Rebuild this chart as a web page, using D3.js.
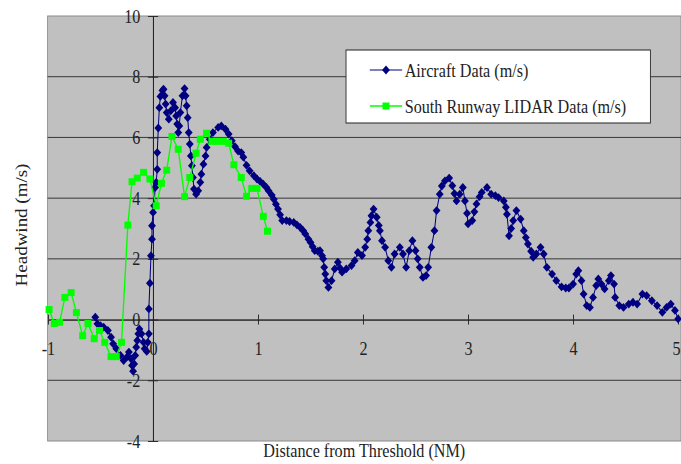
<!DOCTYPE html>
<html>
<head>
<meta charset="utf-8">
<script src="https://cdn.jsdelivr.net/npm/d3@7"></script>
<style>
  body { margin: 0; background: #fff; }
  text { font-family: "Liberation Serif", "Times New Roman", serif; fill: #222; }
</style>
</head>
<body>
<div class="container"></div>
<script>
// aircraft headwind along approach (NM, m/s)
const aircraftX = [-0.55,-0.53,-0.50,-0.47,-0.43,-0.40,-0.38,-0.35,-0.31,-0.28,-0.25,-0.23,-0.21,-0.20,-0.19,-0.18,-0.17,-0.16,-0.15,-0.14,-0.13,-0.11,-0.09,-0.08,-0.06,-0.05,-0.04,-0.04,-0.03,-0.02,-0.01,-0.01,0.00,0.01,0.02,0.03,0.04,0.04,0.05,0.06,0.07,0.09,0.10,0.11,0.12,0.13,0.15,0.17,0.19,0.21,0.22,0.23,0.24,0.25,0.26,0.28,0.30,0.31,0.32,0.33,0.34,0.35,0.36,0.37,0.38,0.39,0.41,0.43,0.45,0.46,0.48,0.50,0.51,0.54,0.57,0.62,0.65,0.69,0.72,0.75,0.78,0.81,0.84,0.86,0.89,0.92,0.96,0.99,1.02,1.05,1.08,1.10,1.13,1.15,1.17,1.19,1.21,1.23,1.27,1.30,1.34,1.37,1.40,1.43,1.45,1.48,1.50,1.52,1.54,1.57,1.59,1.61,1.62,1.63,1.64,1.65,1.67,1.70,1.73,1.76,1.78,1.80,1.84,1.89,1.92,1.95,1.99,2.02,2.04,2.05,2.07,2.08,2.10,2.13,2.15,2.16,2.18,2.21,2.24,2.27,2.30,2.35,2.38,2.41,2.44,2.47,2.50,2.52,2.54,2.57,2.60,2.62,2.65,2.68,2.70,2.73,2.75,2.78,2.82,2.85,2.87,2.89,2.92,2.95,2.97,2.99,3.00,3.04,3.06,3.08,3.11,3.13,3.18,3.22,3.26,3.29,3.34,3.36,3.37,3.39,3.41,3.43,3.46,3.50,3.53,3.55,3.57,3.60,3.62,3.65,3.69,3.72,3.75,3.80,3.84,3.89,3.93,3.96,4.00,4.03,4.05,4.08,4.10,4.13,4.16,4.19,4.22,4.24,4.27,4.30,4.34,4.36,4.39,4.40,4.44,4.48,4.53,4.57,4.61,4.66,4.70,4.75,4.80,4.85,4.89,4.93,4.97,5.00];
const aircraftY = [0.08,-0.14,-0.20,-0.25,-0.36,-0.58,-0.80,-0.96,-1.18,-1.35,-1.24,-1.07,-1.29,-1.51,-1.70,-1.46,-1.18,-0.91,-0.69,-0.47,-0.31,-0.47,-0.75,-0.96,-1.05,-0.75,-0.47,0.35,1.20,2.10,2.65,3.09,3.53,3.75,4.35,4.52,4.95,5.50,6.31,6.98,7.35,7.55,7.59,7.37,7.10,6.82,6.60,6.88,7.15,6.98,6.71,6.44,6.16,6.38,6.82,7.37,7.61,7.37,7.04,6.65,6.16,5.78,5.39,5.07,4.68,4.30,4.13,4.24,4.52,4.79,5.12,5.39,5.67,5.94,6.16,6.33,6.38,6.27,6.11,5.89,5.70,5.55,5.50,5.35,5.08,4.90,4.74,4.63,4.55,4.46,4.35,4.24,4.10,3.96,3.80,3.64,3.45,3.26,3.26,3.23,3.20,3.12,3.04,2.93,2.82,2.65,2.54,2.40,2.27,2.25,2.27,2.10,2.00,1.72,1.50,1.28,1.06,1.28,1.67,1.89,1.70,1.56,1.67,1.78,1.94,2.21,2.11,2.38,2.65,2.93,3.20,3.42,3.64,3.37,3.10,2.93,2.60,2.38,1.94,1.72,2.16,2.38,2.16,1.72,2.27,2.60,2.27,2.00,1.72,1.39,1.45,1.72,2.38,2.93,3.59,4.13,4.40,4.57,4.66,4.41,4.15,3.91,4.13,4.35,3.91,3.50,3.15,3.26,3.55,3.81,4.05,4.19,4.35,4.13,4.08,4.02,3.91,3.70,3.47,2.76,3.00,3.26,3.59,3.31,2.93,2.70,2.49,2.25,2.05,2.16,2.38,2.16,1.72,1.50,1.28,1.08,1.04,1.04,1.17,1.50,1.61,1.28,0.84,0.46,0.40,0.73,1.12,1.34,1.17,1.01,1.28,1.45,1.17,0.73,0.46,0.40,0.51,0.57,0.51,0.84,0.79,0.62,0.46,0.24,0.40,0.51,0.30,0.02];

// south runway LIDAR
const lidarX = [-0.99,-0.94,-0.89,-0.84,-0.78,-0.73,-0.67,-0.62,-0.56,-0.51,-0.46,-0.40,-0.35,-0.30,-0.24,-0.20,-0.15,-0.09,-0.03,0.03,0.08,0.13,0.18,0.24,0.30,0.35,0.41,0.45,0.51,0.56,0.61,0.67,0.72,0.77,0.84,0.89,0.94,0.99,1.05,1.09];
const lidarY = [0.33,-0.13,-0.09,0.73,0.89,0.23,-0.53,-0.13,-0.63,-0.36,-0.75,-1.22,-1.22,-0.75,3.11,4.54,4.66,4.85,4.63,3.75,4.49,4.92,6.03,5.61,4.05,4.68,5.48,5.94,6.14,5.87,5.87,5.87,5.81,5.10,4.68,4.06,4.32,4.32,3.40,2.91];

const xTicks = [-1, 0, 1, 2, 3, 4, 5];
const yTicks = [-4, -2, 0, 2, 4, 6, 8, 10];
const gridY = [-2, 2, 4, 6, 8];
const seriesNames = ["Aircraft Data (m/s)", "South Runway LIDAR Data (m/s)"];

const aircraft = aircraftX.map((d, i) => [d, aircraftY[i]]);
const lidar = lidarX.map((d, i) => [d, lidarY[i]]);

// the picture is squeezed sideways, so draw wide and squash with the viewBox
const W = 801, H = 464;
const plotLeft = 56, plotRight = 801, plotTop = 16, plotBottom = 441;

const x = d3.scaleLinear().domain([-1, 5]).range([56.5, 797.6]);
const y = d3.scaleLinear().domain([-4, 10]).range([plotBottom, plotTop]);

const svg = d3.select('.container')
  .append('svg')
  .attr('width', 681)
  .attr('height', H)
  .attr('viewBox', `0 0 ${W} ${H}`)
  .attr('preserveAspectRatio', 'none');

svg.append('rect')
  .attr('x', plotLeft)
  .attr('y', plotTop)
  .attr('width', plotRight - plotLeft)
  .attr('height', plotBottom - plotTop)
  .attr('fill', '#c0c0c0')
  .attr('stroke', '#8a8a8a');

svg.selectAll('.grid')
  .data(gridY)
  .enter()
  .append('line')
  .attr('class', 'grid')
  .attr('x1', plotLeft)
  .attr('x2', plotRight)
  .attr('y1', d => y(d))
  .attr('y2', d => y(d))
  .attr('stroke', '#2a2a2a')
  .attr('stroke-width', 1);

// axes cross at the origin, ticks stick out both sides
const yAxis = d3.axisLeft(y).tickValues(yTicks).tickSize(6).tickSizeOuter(0).tickPadding(9).tickFormat(d => String(d));
const yAxis2 = d3.axisRight(y).tickValues(yTicks).tickSize(6).tickSizeOuter(0).tickFormat('');
const xAxis = d3.axisBottom(x).tickValues(xTicks).tickSize(5).tickSizeOuter(0).tickPadding(17).tickFormat(d => String(d));
const xAxis2 = d3.axisTop(x).tickValues(xTicks).tickSize(5).tickSizeOuter(0).tickFormat('');

const axes = [
  svg.append('g').attr('transform', `translate(${x(0)},0)`).call(yAxis),
  svg.append('g').attr('transform', `translate(${x(0)},0)`).call(yAxis2),
  svg.append('g').attr('transform', `translate(0,${y(0)})`).call(xAxis),
  svg.append('g').attr('transform', `translate(0,${y(0)})`).call(xAxis2)
];
axes.forEach(g => {
  g.selectAll('path, line').attr('stroke', '#222');
  g.selectAll('text').attr('fill', '#222').style('font-size', '19px')
    .style('font-family', '"Liberation Serif", serif');
});

// last x label sits on the window edge, keep it inside
axes[2].selectAll('.tick text')
  .filter(d => d === 5)
  .attr('text-anchor', 'end')
  .attr('x', W - 1 - x(5));

const line = d3.line().x(d => x(d[0])).y(d => y(d[1]));
const diamond = 'M0,-4.4L4.6,0L0,4.4L-4.6,0Z';
const square = 'M-4.1,-3.5H4.1V3.5H-4.1Z';

// aircraft
svg.append('path')
  .datum(aircraft)
  .attr('d', line)
  .attr('fill', 'none')
  .attr('stroke', '#000080')
  .attr('stroke-width', 1.2);

svg.selectAll('.ac')
  .data(aircraft)
  .enter()
  .append('path')
  .attr('class', 'ac')
  .attr('d', diamond)
  .attr('transform', d => `translate(${x(d[0])},${y(d[1])})`)
  .attr('fill', '#000080');

// lidar
svg.append('path')
  .datum(lidar)
  .attr('d', line)
  .attr('fill', 'none')
  .attr('stroke', '#00ff00')
  .attr('stroke-width', 1.6);

svg.selectAll('.li')
  .data(lidar)
  .enter()
  .append('path')
  .attr('class', 'li')
  .attr('d', square)
  .attr('transform', d => `translate(${x(d[0])},${y(d[1])})`)
  .attr('fill', '#00ff00');

// axis titles
svg.append('text')
  .attr('x', (plotLeft + plotRight) / 2)
  .attr('y', 457)
  .attr('text-anchor', 'middle')
  .style('font-size', '19px')
  .text('Distance from Threshold (NM)');

svg.append('text')
  .attr('transform', 'translate(32,225) rotate(-90)')
  .attr('text-anchor', 'middle')
  .style('font-size', '19px')
  .text('Headwind (m/s)');

// legend
const legend = svg.append('g');
legend.append('rect')
  .attr('x', 407)
  .attr('y', 50)
  .attr('width', 358)
  .attr('height', 73)
  .attr('fill', '#fff')
  .attr('stroke', '#222');

const legendRows = [
  { name: seriesNames[0], color: '#000080', mark: diamond, w: 1.2, cy: 70 },
  { name: seriesNames[1], color: '#00ff00', mark: square, w: 1.6, cy: 106 }
];
legendRows.forEach(r => {
  legend.append('line')
    .attr('x1', 435).attr('x2', 473)
    .attr('y1', r.cy).attr('y2', r.cy)
    .attr('stroke', r.color).attr('stroke-width', r.w);
  legend.append('path')
    .attr('d', r.mark)
    .attr('transform', `translate(454,${r.cy})`)
    .attr('fill', r.color);
  legend.append('text')
    .attr('x', 476)
    .attr('y', r.cy)
    .attr('dy', '0.35em')
    .style('font-size', '19px')
    .text(r.name);
});
</script>
</body>
</html>
